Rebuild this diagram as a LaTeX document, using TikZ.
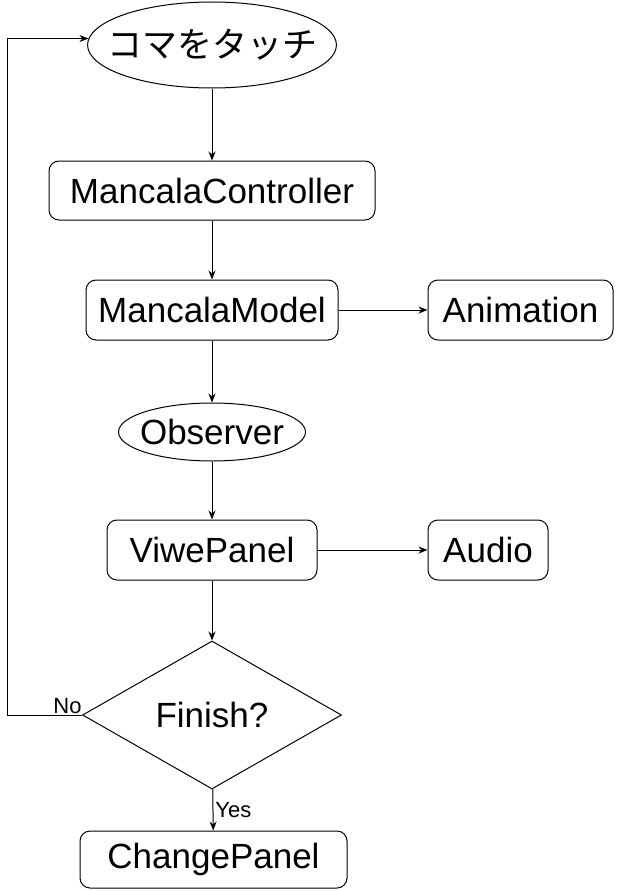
\documentclass[tikz,border=0pt]{standalone}
\usepackage{fontspec}
\setmainfont{Liberation Sans}
\newfontfamily\jpfont{Noto Sans CJK JP}
\usepackage{tikz}
\usetikzlibrary{positioning,arrows.meta,shapes.geometric}

\begin{document}
\begin{tikzpicture}[x=1pt, y=-1pt, line width=1pt,
  font=\fontsize{35}{40}\selectfont,
  box/.style={draw, rounded corners=10pt, inner sep=0pt, minimum height=59pt},
  oval/.style={draw, ellipse, inner ysep=0pt},
  flow/.style={-{Stealth[length=9pt,width=7pt]}},
  lbl/.style={font=\fontsize{22}{24}\selectfont, inner sep=2pt}]
\useasboundingbox (0,0) rectangle (618,891);

\node[oval, inner xsep=-17pt, minimum width=246pt, minimum height=86pt] (touch) at (212,45) {\jpfont コマをタッチ};
\node[box, minimum width=326pt] (ctrl) at (212,190.5) {MancalaController};
\node[box, minimum width=252pt, minimum height=60pt] (model) at (212,310) {MancalaModel};
\node[box, minimum width=185pt, minimum height=60pt] (anim) at (520.5,310) {Animation};
\node[oval, inner xsep=-7pt, minimum width=187pt, minimum height=58pt] (obs) at (212,432) {Observer};
\node[box, minimum width=210pt, minimum height=60pt] (panel) at (212,550) {ViwePanel};
\node[box, minimum width=120pt, minimum height=60pt] (audio) at (488,550) {Audio};
\node[draw, diamond, aspect=1.75, inner sep=0pt, minimum width=259pt, minimum height=148pt] (fin) at (212,715) {Finish?};
\node[box, minimum width=267pt, minimum height=57pt] (change) at (213.5,859.5) {ChangePanel};

\draw[flow] (touch) -- (ctrl);
\draw[flow] (ctrl) -- (model);
\draw[flow] (model) -- (anim);
\draw[flow] (model) -- (obs);
\draw[flow] (obs) -- (panel);
\draw[flow] (panel) -- (audio);
\draw[flow] (panel) -- (fin);
\draw[flow] (fin) -- (change) node[lbl, midway, right] {Yes};
\draw[flow] (fin.west) node[lbl, above left, xshift=2pt, yshift=-1pt] {No} -- ++(-75,0) |- (touch.177);
\end{tikzpicture}
\end{document}
